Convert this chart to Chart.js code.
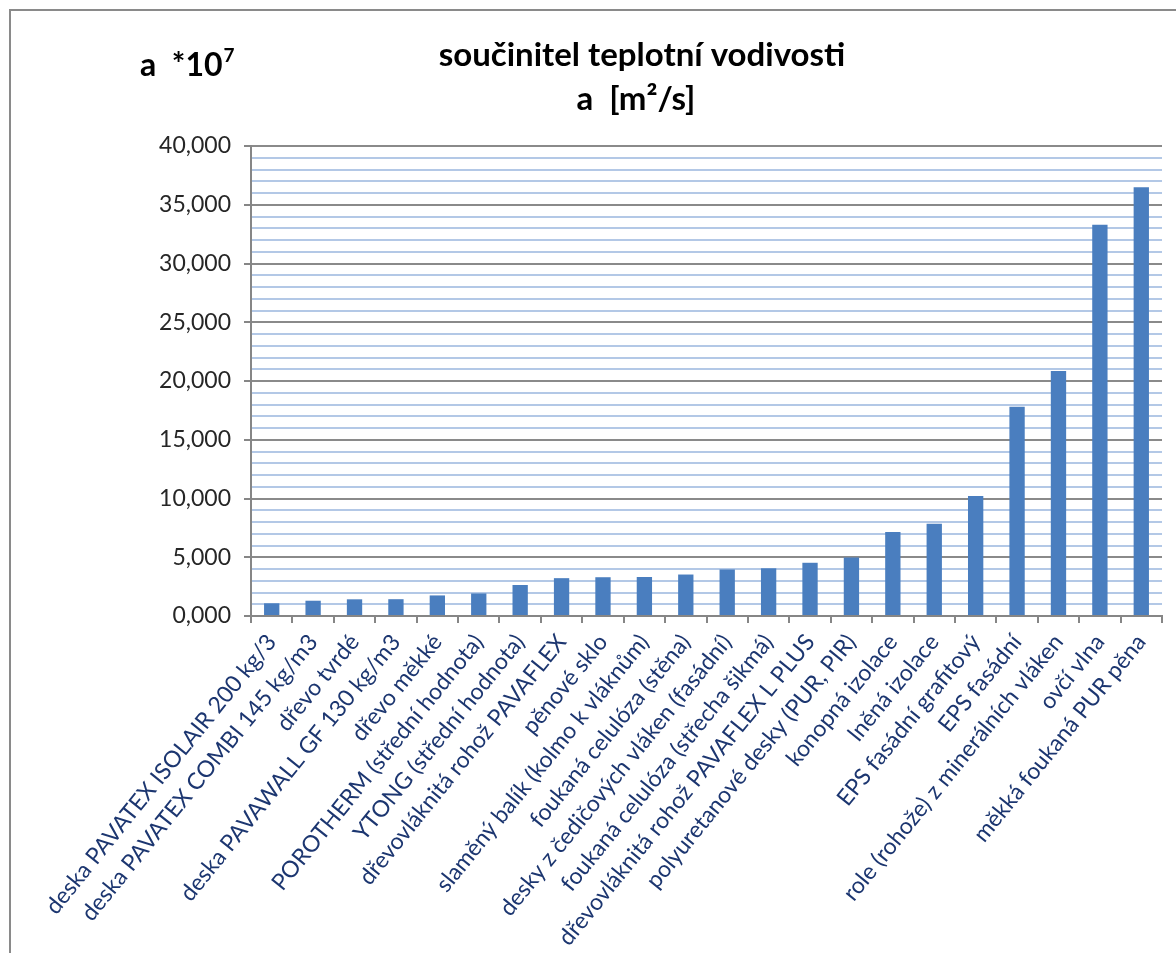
<!doctype html>
<html lang="cs">
  <head>
    <meta charset="UTF-8" />
    <title>součinitel teplotní vodivosti</title>
    <script src="https://cdn.jsdelivr.net/npm/chart.js"></script>
    <style>
      body {
        margin: 0;
        background: #fff;
        overflow: hidden;
      }
      .frame {
        position: absolute;
        left: 9px;
        top: 9px;
        width: 1300px;
        height: 1100px;
        border: 2px solid #8a8a8a;
      }
      canvas {
        position: absolute;
        left: 0;
        top: 0;
      }
    </style>
  </head>
  <body>
    <div class="frame"></div>
    <canvas id="chart" width="1176" height="953"></canvas>

    <script>
      // materiály (osa x)
      const materials = [
        'deska PAVATEX ISOLAIR 200 kg/3',
        'deska PAVATEX COMBI 145 kg/m3',
        'dřevo tvrdé',
        'deska PAVAWALL GF 130 kg/m3',
        'dřevo měkké',
        'POROTHERM (střední hodnota)',
        'YTONG (střední hodnota)',
        'dřevovláknitá rohož PAVAFLEX',
        'pěnové sklo',
        'slaměný balík (kolmo k vláknům)',
        'foukaná celulóza (stěna)',
        'desky z čedičových vláken (fasádní)',
        'foukaná celulóza (střecha šikmá)',
        'dřevovláknitá rohož PAVAFLEX L PLUS',
        'polyuretanové desky (PUR, PIR)',
        'konopná izolace',
        'lněná izolace',
        'EPS fasádní grafitový',
        'EPS fasádní',
        'role (rohože) z minerálních vláken',
        'ovčí vlna',
        'měkká foukaná PUR pěna',
      ];

      // a * 10^7 [m2/s]
      const diffusivity = [
        1.08, 1.3, 1.42, 1.43, 1.75, 1.92, 2.64, 3.22, 3.3, 3.32, 3.53,
        3.96, 4.06, 4.53, 4.98, 7.14, 7.85, 10.22, 17.8, 20.86, 33.3, 36.5,
      ];

      const yMin = 0;
      const yMax = 40;
      const yStep = 1;
      const yMajor = 5;

      const FONT = 'Lato, "Open Sans", sans-serif';

      // nadpisy kreslené přímo na canvas
      const titlePlugin = {
        id: 'titles',
        afterDraw(chart) {
          const ctx = chart.ctx;
          ctx.save();
          ctx.fillStyle = '#000';
          ctx.textBaseline = 'alphabetic';
          ctx.font = 'bold 33px ' + FONT;
          ctx.textAlign = 'center';
          ctx.fillText('součinitel teplotní vodivosti', 642, 66);
          ctx.fillText('a  [m²/s]', 636, 110);

          // a *10^7
          ctx.textAlign = 'left';
          ctx.font = 'bold 32px ' + FONT;
          const base = 'a  *10';
          ctx.fillText(base, 140, 76);
          const w = ctx.measureText(base).width;
          ctx.font = 'bold 19px ' + FONT;
          ctx.fillText('7', 140 + w + 1, 62);
          ctx.restore();
        },
      };

      new Chart(document.getElementById('chart'), {
        type: 'bar',
        data: {
          labels: materials,
          datasets: [
            {
              data: diffusivity,
              backgroundColor: '#4a7ebf',
              barPercentage: 0.37,
              categoryPercentage: 1,
            },
          ],
        },
        plugins: [titlePlugin],
        options: {
          responsive: false,
          animation: false,
          layout: {
            padding: { top: 146, right: 14, left: 0, bottom: 0 },
          },
          plugins: {
            legend: { display: false },
            tooltip: { enabled: false },
            title: { display: false },
          },
          scales: {
            y: {
              min: yMin,
              max: yMax,
              afterFit(scale) {
                scale.width = 251;
              },
              border: { color: '#868686', width: 2 },
              grid: {
                lineWidth: 2,
                tickLength: 7,
                color: (c) => (c.tick && c.tick.value % yMajor === 0 ? '#8a8a8a' : '#b3c8e6'),
                tickColor: (c) => (c.tick && c.tick.value % yMajor === 0 ? '#868686' : 'rgba(0,0,0,0)'),
              },
              ticks: {
                stepSize: yStep,
                autoSkip: false,
                padding: 13,
                color: '#262626',
                font: { family: FONT, size: 23 },
                callback: (v) => (v % yMajor === 0 ? v.toFixed(3).replace('.', ',') : ''),
              },
            },
            x: {
              afterFit(scale) {
                scale.height = 953 - 616;
              },
              border: { color: '#868686', width: 2 },
              grid: {
                offset: true,
                drawOnChartArea: false,
                tickLength: 7,
                tickColor: '#868686',
                lineWidth: 2,
              },
              ticks: {
                autoSkip: false,
                minRotation: 51,
                maxRotation: 51,
                padding: 6,
                color: '#1c3670',
                font: { family: FONT, size: 23 },
              },
            },
          },
        },
      });
    </script>
  </body>
</html>
